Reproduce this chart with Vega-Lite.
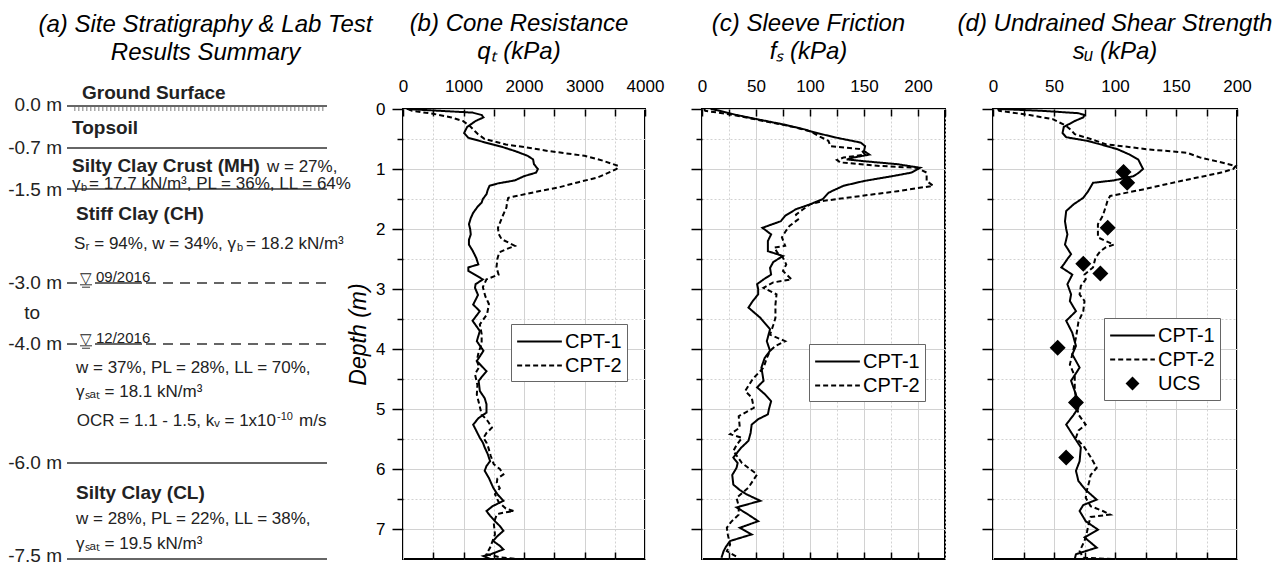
{
  "$schema": "https://vega.github.io/schema/vega-lite/v6.json",
  "background": "white",
  "padding": {"left": 0, "top": 11, "right": 0, "bottom": 0},
  "spacing": 0,
  "bounds": "flush",
  "config": {
    "font": "Liberation Sans",
    "view": {"stroke": "black", "strokeWidth": 2},
    "title": {"font": "Liberation Sans", "fontSize": 24, "fontStyle": "italic", "fontWeight": "normal", "lineHeight": 28, "offset": 13, "anchor": "middle", "color": "black"},
    "axis": {"labelFont": "Liberation Sans", "labelFontSize": 17, "labelColor": "black", "tickColor": "black", "tickWidth": 1.5, "gridColor": "#d2d2d2", "gridWidth": 1, "domain": false, "labelFlush": false, "labelOverlap": false, "titleFont": "Liberation Sans", "titleColor": "black"},
    "legend": {"labelFont": "Liberation Sans", "labelFontSize": 20, "labelColor": "black", "strokeColor": "#666", "fillColor": "white", "padding": 5, "symbolStrokeWidth": 2, "symbolStrokeColor": "black", "symbolFillColor": "black", "symbolSize": 500, "symbolOffset": 11, "labelOffset": 13, "rowPadding": 1, "cornerRadius": 0}
  },
  "resolve": {"scale": {"strokeDash": "independent", "shape": "independent"}},
  "datasets": {
    "strat": [
      {"kind": "line", "x": 6.7, "x2": 32.7, "y": -0.05},
      {"kind": "line", "x": 6.7, "x2": 32.7, "y": 0.65},
      {"kind": "line", "x": 6.7, "x2": 32.7, "y": 1.333},
      {"kind": "line", "x": 6.7, "x2": 32.7, "y": 5.9},
      {"kind": "line", "x": 6.7, "x2": 32.7, "y": 7.5},
      {"kind": "line", "x": 6.7, "x2": 7.7, "y": 2.9},
      {"kind": "line", "x": 6.7, "x2": 7.7, "y": 3.917},
      {"kind": "line", "x": 9.5, "x2": 14.2, "y": 2.9},
      {"kind": "line", "x": 9.5, "x2": 14.2, "y": 3.917},
      {"kind": "thin", "x": 8.0, "x2": 9.2, "y": 2.93},
      {"kind": "thin", "x": 8.2, "x2": 9.0, "y": 2.97},
      {"kind": "thin", "x": 8.0, "x2": 9.2, "y": 3.947},
      {"kind": "thin", "x": 8.2, "x2": 9.0, "y": 3.987},
      {"kind": "hatch", "x": 7.4, "x2": 32.4, "y": 0.0},
      {"kind": "dash", "x": 14.6, "x2": 32.7, "y": 2.9},
      {"kind": "dash", "x": 14.6, "x2": 32.7, "y": 3.917},
      {"kind": "label", "text": "0.0 m", "x": 6.2, "y": -0.067},
      {"kind": "label", "text": "-0.7 m", "x": 6.2, "y": 0.65},
      {"kind": "label", "text": "-1.5 m", "x": 6.2, "y": 1.35},
      {"kind": "label", "text": "-3.0 m", "x": 6.2, "y": 2.9},
      {"kind": "label", "text": "to", "x": 4.0, "y": 3.4},
      {"kind": "label", "text": "-4.0 m", "x": 6.2, "y": 3.917},
      {"kind": "label", "text": "-6.0 m", "x": 6.2, "y": 5.9},
      {"kind": "label", "text": "-7.5 m", "x": 6.2, "y": 7.45},
      {"kind": "head", "text": "Ground Surface", "x": 8.2, "y": -0.267},
      {"kind": "head", "text": "Topsoil", "x": 7.2, "y": 0.317},
      {"kind": "head", "text": "Silty Clay Crust (MH)", "x": 7.2, "y": 0.95},
      {"kind": "head", "text": "Stiff Clay (CH)", "x": 7.6, "y": 1.75},
      {"kind": "head", "text": "Silty Clay (CL)", "x": 7.6, "y": 6.4},
      {"kind": "body", "text": "w = 27%,", "x": 26.7, "y": 0.967},
      {"kind": "body", "text": "γ", "x": 7.2, "y": 1.25},
      {"kind": "body", "text": "= 17.7 kN/m³, PL = 36%, LL = 64%", "x": 8.9, "y": 1.25},
      {"kind": "bodyR", "text": "Sᵣ = 94%, w = 34%, γ", "x": 23.6, "y": 2.25},
      {"kind": "body", "text": "= 18.2 kN/m³", "x": 24.6, "y": 2.25},
      {"kind": "body", "text": "w = 37%, PL = 28%, LL = 70%,", "x": 7.6, "y": 4.317},
      {"kind": "body", "text": "γₛₐₜ = 18.1 kN/m³", "x": 7.6, "y": 4.717},
      {"kind": "bodyR", "text": "OCR = 1.1 - 1.5, kᵥ = 1x10", "x": 27.6, "y": 5.2},
      {"kind": "body", "text": "m/s", "x": 29.9, "y": 5.2},
      {"kind": "body", "text": "w = 28%, PL = 22%, LL = 38%,", "x": 7.6, "y": 6.833},
      {"kind": "body", "text": "γₛₐₜ = 19.5 kN/m³", "x": 7.6, "y": 7.25},
      {"kind": "sub", "text": "b", "x": 8.1, "y": 1.32},
      {"kind": "sub", "text": "b", "x": 23.7, "y": 2.32},
      {"kind": "sub", "text": "-10", "x": 27.7, "y": 5.13},
      {"kind": "wt", "text": "▽", "x": 8.6, "y": 2.9},
      {"kind": "wt", "text": "▽", "x": 8.6, "y": 3.917},
      {"kind": "date", "text": "09/2016", "x": 9.6, "y": 2.88},
      {"kind": "date", "text": "12/2016", "x": 9.6, "y": 3.897}
    ],
    "qt": [
      {"series": "CPT-1", "d": 0.0, "v": 60}, {"series": "CPT-1", "d": 0.03, "v": 600}, {"series": "CPT-1", "d": 0.06, "v": 1150}, {"series": "CPT-1", "d": 0.1, "v": 1300}, {"series": "CPT-1", "d": 0.14, "v": 1330}, {"series": "CPT-1", "d": 0.2, "v": 1200}, {"series": "CPT-1", "d": 0.3, "v": 1060}, {"series": "CPT-1", "d": 0.4, "v": 1010}, {"series": "CPT-1", "d": 0.48, "v": 1080}, {"series": "CPT-1", "d": 0.55, "v": 1330}, {"series": "CPT-1", "d": 0.62, "v": 1600}, {"series": "CPT-1", "d": 0.7, "v": 1850}, {"series": "CPT-1", "d": 0.78, "v": 2060}, {"series": "CPT-1", "d": 0.84, "v": 2150}, {"series": "CPT-1", "d": 0.92, "v": 2165}, {"series": "CPT-1", "d": 1.0, "v": 2230}, {"series": "CPT-1", "d": 1.06, "v": 2200}, {"series": "CPT-1", "d": 1.12, "v": 2000}, {"series": "CPT-1", "d": 1.19, "v": 1850}, {"series": "CPT-1", "d": 1.24, "v": 1570}, {"series": "CPT-1", "d": 1.28, "v": 1430}, {"series": "CPT-1", "d": 1.35, "v": 1400}, {"series": "CPT-1", "d": 1.42, "v": 1380}, {"series": "CPT-1", "d": 1.5, "v": 1320}, {"series": "CPT-1", "d": 1.56, "v": 1300}, {"series": "CPT-1", "d": 1.62, "v": 1240}, {"series": "CPT-1", "d": 1.73, "v": 1160}, {"series": "CPT-1", "d": 1.82, "v": 1120}, {"series": "CPT-1", "d": 1.92, "v": 1090}, {"series": "CPT-1", "d": 2.0, "v": 1110}, {"series": "CPT-1", "d": 2.09, "v": 1120}, {"series": "CPT-1", "d": 2.18, "v": 1090}, {"series": "CPT-1", "d": 2.26, "v": 1090}, {"series": "CPT-1", "d": 2.36, "v": 1150}, {"series": "CPT-1", "d": 2.48, "v": 1210}, {"series": "CPT-1", "d": 2.59, "v": 1245}, {"series": "CPT-1", "d": 2.64, "v": 1080}, {"series": "CPT-1", "d": 2.7, "v": 1080}, {"series": "CPT-1", "d": 2.84, "v": 1320}, {"series": "CPT-1", "d": 2.92, "v": 1200}, {"series": "CPT-1", "d": 2.98, "v": 1190}, {"series": "CPT-1", "d": 3.1, "v": 1240}, {"series": "CPT-1", "d": 3.26, "v": 1160}, {"series": "CPT-1", "d": 3.37, "v": 1270}, {"series": "CPT-1", "d": 3.53, "v": 1150}, {"series": "CPT-1", "d": 3.7, "v": 1270}, {"series": "CPT-1", "d": 3.87, "v": 1220}, {"series": "CPT-1", "d": 4.03, "v": 1330}, {"series": "CPT-1", "d": 4.2, "v": 1220}, {"series": "CPT-1", "d": 4.37, "v": 1380}, {"series": "CPT-1", "d": 4.53, "v": 1250}, {"series": "CPT-1", "d": 4.7, "v": 1270}, {"series": "CPT-1", "d": 4.82, "v": 1350}, {"series": "CPT-1", "d": 4.92, "v": 1380}, {"series": "CPT-1", "d": 5.06, "v": 1380}, {"series": "CPT-1", "d": 5.15, "v": 1250}, {"series": "CPT-1", "d": 5.26, "v": 1160}, {"series": "CPT-1", "d": 5.38, "v": 1220}, {"series": "CPT-1", "d": 5.48, "v": 1270}, {"series": "CPT-1", "d": 5.56, "v": 1320}, {"series": "CPT-1", "d": 5.64, "v": 1350}, {"series": "CPT-1", "d": 5.75, "v": 1400}, {"series": "CPT-1", "d": 5.87, "v": 1440}, {"series": "CPT-1", "d": 5.95, "v": 1380}, {"series": "CPT-1", "d": 6.03, "v": 1350}, {"series": "CPT-1", "d": 6.15, "v": 1420}, {"series": "CPT-1", "d": 6.31, "v": 1490}, {"series": "CPT-1", "d": 6.42, "v": 1560}, {"series": "CPT-1", "d": 6.53, "v": 1660}, {"series": "CPT-1", "d": 6.62, "v": 1480}, {"series": "CPT-1", "d": 6.7, "v": 1380}, {"series": "CPT-1", "d": 6.78, "v": 1440}, {"series": "CPT-1", "d": 6.87, "v": 1520}, {"series": "CPT-1", "d": 6.95, "v": 1600}, {"series": "CPT-1", "d": 7.03, "v": 1660}, {"series": "CPT-1", "d": 7.12, "v": 1560}, {"series": "CPT-1", "d": 7.2, "v": 1490}, {"series": "CPT-1", "d": 7.28, "v": 1600}, {"series": "CPT-1", "d": 7.34, "v": 1660}, {"series": "CPT-1", "d": 7.42, "v": 1450}, {"series": "CPT-1", "d": 7.45, "v": 1330}, {"series": "CPT-1", "d": 7.5, "v": 1440},
      {"series": "CPT-2", "d": 0.0, "v": 80}, {"series": "CPT-2", "d": 0.03, "v": 150}, {"series": "CPT-2", "d": 0.08, "v": 500}, {"series": "CPT-2", "d": 0.14, "v": 800}, {"series": "CPT-2", "d": 0.2, "v": 990}, {"series": "CPT-2", "d": 0.28, "v": 1100}, {"series": "CPT-2", "d": 0.37, "v": 1190}, {"series": "CPT-2", "d": 0.42, "v": 1240}, {"series": "CPT-2", "d": 0.5, "v": 1350}, {"series": "CPT-2", "d": 0.59, "v": 1700}, {"series": "CPT-2", "d": 0.65, "v": 2100}, {"series": "CPT-2", "d": 0.7, "v": 2400}, {"series": "CPT-2", "d": 0.78, "v": 3000}, {"series": "CPT-2", "d": 0.86, "v": 3300}, {"series": "CPT-2", "d": 0.95, "v": 3560}, {"series": "CPT-2", "d": 1.0, "v": 3530}, {"series": "CPT-2", "d": 1.07, "v": 3380}, {"series": "CPT-2", "d": 1.14, "v": 3220}, {"series": "CPT-2", "d": 1.22, "v": 2900}, {"series": "CPT-2", "d": 1.31, "v": 2560}, {"series": "CPT-2", "d": 1.38, "v": 2200}, {"series": "CPT-2", "d": 1.42, "v": 2010}, {"series": "CPT-2", "d": 1.48, "v": 1740}, {"series": "CPT-2", "d": 1.55, "v": 1720}, {"series": "CPT-2", "d": 1.64, "v": 1710}, {"series": "CPT-2", "d": 1.8, "v": 1640}, {"series": "CPT-2", "d": 1.98, "v": 1570}, {"series": "CPT-2", "d": 2.08, "v": 1580}, {"series": "CPT-2", "d": 2.17, "v": 1630}, {"series": "CPT-2", "d": 2.28, "v": 1850}, {"series": "CPT-2", "d": 2.34, "v": 1700}, {"series": "CPT-2", "d": 2.39, "v": 1590}, {"series": "CPT-2", "d": 2.5, "v": 1560}, {"series": "CPT-2", "d": 2.64, "v": 1545}, {"series": "CPT-2", "d": 2.76, "v": 1580}, {"series": "CPT-2", "d": 2.84, "v": 1380}, {"series": "CPT-2", "d": 2.97, "v": 1320}, {"series": "CPT-2", "d": 3.12, "v": 1360}, {"series": "CPT-2", "d": 3.25, "v": 1420}, {"series": "CPT-2", "d": 3.42, "v": 1390}, {"series": "CPT-2", "d": 3.59, "v": 1270}, {"series": "CPT-2", "d": 3.75, "v": 1300}, {"series": "CPT-2", "d": 3.92, "v": 1300}, {"series": "CPT-2", "d": 4.05, "v": 1250}, {"series": "CPT-2", "d": 4.2, "v": 1220}, {"series": "CPT-2", "d": 4.3, "v": 1260}, {"series": "CPT-2", "d": 4.42, "v": 1190}, {"series": "CPT-2", "d": 4.6, "v": 1230}, {"series": "CPT-2", "d": 4.76, "v": 1220}, {"series": "CPT-2", "d": 4.92, "v": 1260}, {"series": "CPT-2", "d": 5.09, "v": 1300}, {"series": "CPT-2", "d": 5.2, "v": 1400}, {"series": "CPT-2", "d": 5.31, "v": 1470}, {"series": "CPT-2", "d": 5.4, "v": 1380}, {"series": "CPT-2", "d": 5.48, "v": 1330}, {"series": "CPT-2", "d": 5.56, "v": 1380}, {"series": "CPT-2", "d": 5.64, "v": 1410}, {"series": "CPT-2", "d": 5.78, "v": 1450}, {"series": "CPT-2", "d": 5.92, "v": 1500}, {"series": "CPT-2", "d": 6.0, "v": 1600}, {"series": "CPT-2", "d": 6.09, "v": 1660}, {"series": "CPT-2", "d": 6.16, "v": 1560}, {"series": "CPT-2", "d": 6.23, "v": 1550}, {"series": "CPT-2", "d": 6.32, "v": 1600}, {"series": "CPT-2", "d": 6.42, "v": 1520}, {"series": "CPT-2", "d": 6.55, "v": 1580}, {"series": "CPT-2", "d": 6.66, "v": 1700}, {"series": "CPT-2", "d": 6.7, "v": 1830}, {"series": "CPT-2", "d": 6.74, "v": 1600}, {"series": "CPT-2", "d": 6.76, "v": 1550}, {"series": "CPT-2", "d": 6.9, "v": 1500}, {"series": "CPT-2", "d": 7.09, "v": 1520}, {"series": "CPT-2", "d": 7.2, "v": 1480}, {"series": "CPT-2", "d": 7.31, "v": 1440}, {"series": "CPT-2", "d": 7.42, "v": 1380}, {"series": "CPT-2", "d": 7.47, "v": 1600}, {"series": "CPT-2", "d": 7.5, "v": 1880}
    ],
    "fs": [
      {"series": "CPT-1", "d": 0.0, "v": 8}, {"series": "CPT-1", "d": 0.02, "v": 14}, {"series": "CPT-1", "d": 0.1, "v": 32}, {"series": "CPT-1", "d": 0.17, "v": 51}, {"series": "CPT-1", "d": 0.26, "v": 76}, {"series": "CPT-1", "d": 0.34, "v": 95}, {"series": "CPT-1", "d": 0.37, "v": 100}, {"series": "CPT-1", "d": 0.42, "v": 111}, {"series": "CPT-1", "d": 0.48, "v": 125}, {"series": "CPT-1", "d": 0.56, "v": 147}, {"series": "CPT-1", "d": 0.62, "v": 151}, {"series": "CPT-1", "d": 0.7, "v": 150}, {"series": "CPT-1", "d": 0.76, "v": 155}, {"series": "CPT-1", "d": 0.81, "v": 140}, {"series": "CPT-1", "d": 0.84, "v": 134}, {"series": "CPT-1", "d": 0.87, "v": 150}, {"series": "CPT-1", "d": 0.92, "v": 181}, {"series": "CPT-1", "d": 0.98, "v": 202}, {"series": "CPT-1", "d": 1.06, "v": 194}, {"series": "CPT-1", "d": 1.12, "v": 176}, {"series": "CPT-1", "d": 1.2, "v": 150}, {"series": "CPT-1", "d": 1.28, "v": 131}, {"series": "CPT-1", "d": 1.33, "v": 125}, {"series": "CPT-1", "d": 1.37, "v": 120}, {"series": "CPT-1", "d": 1.4, "v": 117}, {"series": "CPT-1", "d": 1.5, "v": 112}, {"series": "CPT-1", "d": 1.59, "v": 100}, {"series": "CPT-1", "d": 1.67, "v": 87}, {"series": "CPT-1", "d": 1.78, "v": 77}, {"series": "CPT-1", "d": 1.87, "v": 73}, {"series": "CPT-1", "d": 1.98, "v": 56}, {"series": "CPT-1", "d": 2.09, "v": 64}, {"series": "CPT-1", "d": 2.2, "v": 61}, {"series": "CPT-1", "d": 2.37, "v": 61}, {"series": "CPT-1", "d": 2.45, "v": 75}, {"series": "CPT-1", "d": 2.55, "v": 66}, {"series": "CPT-1", "d": 2.65, "v": 63}, {"series": "CPT-1", "d": 2.76, "v": 64}, {"series": "CPT-1", "d": 2.84, "v": 57}, {"series": "CPT-1", "d": 2.92, "v": 51}, {"series": "CPT-1", "d": 3.0, "v": 52}, {"series": "CPT-1", "d": 3.09, "v": 52}, {"series": "CPT-1", "d": 3.2, "v": 47}, {"series": "CPT-1", "d": 3.31, "v": 43}, {"series": "CPT-1", "d": 3.48, "v": 54}, {"series": "CPT-1", "d": 3.67, "v": 63}, {"series": "CPT-1", "d": 3.87, "v": 60}, {"series": "CPT-1", "d": 4.03, "v": 63}, {"series": "CPT-1", "d": 4.15, "v": 58}, {"series": "CPT-1", "d": 4.31, "v": 55}, {"series": "CPT-1", "d": 4.53, "v": 57}, {"series": "CPT-1", "d": 4.64, "v": 51}, {"series": "CPT-1", "d": 4.75, "v": 58}, {"series": "CPT-1", "d": 4.87, "v": 64}, {"series": "CPT-1", "d": 5.0, "v": 62}, {"series": "CPT-1", "d": 5.09, "v": 61}, {"series": "CPT-1", "d": 5.17, "v": 52}, {"series": "CPT-1", "d": 5.26, "v": 46}, {"series": "CPT-1", "d": 5.4, "v": 45}, {"series": "CPT-1", "d": 5.53, "v": 43}, {"series": "CPT-1", "d": 5.65, "v": 36}, {"series": "CPT-1", "d": 5.81, "v": 29}, {"series": "CPT-1", "d": 5.9, "v": 33}, {"series": "CPT-1", "d": 5.98, "v": 32}, {"series": "CPT-1", "d": 6.1, "v": 28}, {"series": "CPT-1", "d": 6.26, "v": 29}, {"series": "CPT-1", "d": 6.35, "v": 35}, {"series": "CPT-1", "d": 6.42, "v": 41}, {"series": "CPT-1", "d": 6.53, "v": 54}, {"series": "CPT-1", "d": 6.64, "v": 32}, {"series": "CPT-1", "d": 6.75, "v": 42}, {"series": "CPT-1", "d": 6.87, "v": 52}, {"series": "CPT-1", "d": 6.98, "v": 35}, {"series": "CPT-1", "d": 7.09, "v": 46}, {"series": "CPT-1", "d": 7.2, "v": 26}, {"series": "CPT-1", "d": 7.3, "v": 22}, {"series": "CPT-1", "d": 7.37, "v": 20}, {"series": "CPT-1", "d": 7.48, "v": 18},
      {"series": "CPT-2", "d": 0.0, "v": 2}, {"series": "CPT-2", "d": 0.03, "v": 3}, {"series": "CPT-2", "d": 0.09, "v": 26}, {"series": "CPT-2", "d": 0.2, "v": 57}, {"series": "CPT-2", "d": 0.3, "v": 85}, {"series": "CPT-2", "d": 0.37, "v": 100}, {"series": "CPT-2", "d": 0.45, "v": 108}, {"series": "CPT-2", "d": 0.53, "v": 117}, {"series": "CPT-2", "d": 0.62, "v": 119}, {"series": "CPT-2", "d": 0.67, "v": 147}, {"series": "CPT-2", "d": 0.76, "v": 151}, {"series": "CPT-2", "d": 0.81, "v": 131}, {"series": "CPT-2", "d": 0.85, "v": 125}, {"series": "CPT-2", "d": 0.89, "v": 128}, {"series": "CPT-2", "d": 0.95, "v": 165}, {"series": "CPT-2", "d": 0.98, "v": 199}, {"series": "CPT-2", "d": 1.06, "v": 208}, {"series": "CPT-2", "d": 1.2, "v": 208}, {"series": "CPT-2", "d": 1.28, "v": 214}, {"series": "CPT-2", "d": 1.37, "v": 181}, {"series": "CPT-2", "d": 1.48, "v": 134}, {"series": "CPT-2", "d": 1.53, "v": 113}, {"series": "CPT-2", "d": 1.59, "v": 100}, {"series": "CPT-2", "d": 1.68, "v": 93}, {"series": "CPT-2", "d": 1.76, "v": 87}, {"series": "CPT-2", "d": 1.84, "v": 89}, {"series": "CPT-2", "d": 1.95, "v": 81}, {"series": "CPT-2", "d": 2.05, "v": 77}, {"series": "CPT-2", "d": 2.14, "v": 74}, {"series": "CPT-2", "d": 2.28, "v": 77}, {"series": "CPT-2", "d": 2.31, "v": 67}, {"series": "CPT-2", "d": 2.4, "v": 70}, {"series": "CPT-2", "d": 2.48, "v": 75}, {"series": "CPT-2", "d": 2.59, "v": 78}, {"series": "CPT-2", "d": 2.7, "v": 75}, {"series": "CPT-2", "d": 2.84, "v": 83}, {"series": "CPT-2", "d": 2.89, "v": 66}, {"series": "CPT-2", "d": 2.98, "v": 57}, {"series": "CPT-2", "d": 3.09, "v": 69}, {"series": "CPT-2", "d": 3.26, "v": 68}, {"series": "CPT-2", "d": 3.48, "v": 68}, {"series": "CPT-2", "d": 3.6, "v": 66}, {"series": "CPT-2", "d": 3.76, "v": 63}, {"series": "CPT-2", "d": 3.87, "v": 77}, {"series": "CPT-2", "d": 3.95, "v": 68}, {"series": "CPT-2", "d": 4.03, "v": 63}, {"series": "CPT-2", "d": 4.15, "v": 60}, {"series": "CPT-2", "d": 4.31, "v": 57}, {"series": "CPT-2", "d": 4.5, "v": 47}, {"series": "CPT-2", "d": 4.7, "v": 40}, {"series": "CPT-2", "d": 4.81, "v": 46}, {"series": "CPT-2", "d": 4.98, "v": 48}, {"series": "CPT-2", "d": 5.12, "v": 34}, {"series": "CPT-2", "d": 5.31, "v": 35}, {"series": "CPT-2", "d": 5.42, "v": 26}, {"series": "CPT-2", "d": 5.48, "v": 37}, {"series": "CPT-2", "d": 5.6, "v": 32}, {"series": "CPT-2", "d": 5.7, "v": 29}, {"series": "CPT-2", "d": 5.9, "v": 37}, {"series": "CPT-2", "d": 6.09, "v": 51}, {"series": "CPT-2", "d": 6.2, "v": 47}, {"series": "CPT-2", "d": 6.31, "v": 43}, {"series": "CPT-2", "d": 6.48, "v": 32}, {"series": "CPT-2", "d": 6.62, "v": 34}, {"series": "CPT-2", "d": 6.76, "v": 34}, {"series": "CPT-2", "d": 6.88, "v": 27}, {"series": "CPT-2", "d": 6.98, "v": 23}, {"series": "CPT-2", "d": 7.1, "v": 24}, {"series": "CPT-2", "d": 7.26, "v": 26}, {"series": "CPT-2", "d": 7.37, "v": 23}, {"series": "CPT-2", "d": 7.48, "v": 34}
    ],
    "su": [
      {"series": "CPT-1", "d": 0.0, "v": 5}, {"series": "CPT-1", "d": 0.03, "v": 40}, {"series": "CPT-1", "d": 0.07, "v": 70}, {"series": "CPT-1", "d": 0.1, "v": 75}, {"series": "CPT-1", "d": 0.14, "v": 74}, {"series": "CPT-1", "d": 0.2, "v": 67}, {"series": "CPT-1", "d": 0.3, "v": 58}, {"series": "CPT-1", "d": 0.4, "v": 57}, {"series": "CPT-1", "d": 0.47, "v": 60}, {"series": "CPT-1", "d": 0.53, "v": 77}, {"series": "CPT-1", "d": 0.6, "v": 90}, {"series": "CPT-1", "d": 0.67, "v": 102}, {"series": "CPT-1", "d": 0.76, "v": 112}, {"series": "CPT-1", "d": 0.84, "v": 119}, {"series": "CPT-1", "d": 0.92, "v": 121}, {"series": "CPT-1", "d": 1.0, "v": 123}, {"series": "CPT-1", "d": 1.07, "v": 119}, {"series": "CPT-1", "d": 1.12, "v": 115}, {"series": "CPT-1", "d": 1.19, "v": 99}, {"series": "CPT-1", "d": 1.23, "v": 82}, {"series": "CPT-1", "d": 1.3, "v": 80}, {"series": "CPT-1", "d": 1.37, "v": 78}, {"series": "CPT-1", "d": 1.48, "v": 74}, {"series": "CPT-1", "d": 1.59, "v": 66}, {"series": "CPT-1", "d": 1.7, "v": 60}, {"series": "CPT-1", "d": 1.87, "v": 59}, {"series": "CPT-1", "d": 2.0, "v": 60}, {"series": "CPT-1", "d": 2.09, "v": 61}, {"series": "CPT-1", "d": 2.26, "v": 59}, {"series": "CPT-1", "d": 2.42, "v": 64}, {"series": "CPT-1", "d": 2.5, "v": 61}, {"series": "CPT-1", "d": 2.59, "v": 58}, {"series": "CPT-1", "d": 2.64, "v": 56}, {"series": "CPT-1", "d": 2.76, "v": 65}, {"series": "CPT-1", "d": 2.92, "v": 61}, {"series": "CPT-1", "d": 3.09, "v": 64}, {"series": "CPT-1", "d": 3.2, "v": 63}, {"series": "CPT-1", "d": 3.37, "v": 68}, {"series": "CPT-1", "d": 3.53, "v": 60}, {"series": "CPT-1", "d": 3.73, "v": 65}, {"series": "CPT-1", "d": 3.95, "v": 68}, {"series": "CPT-1", "d": 4.09, "v": 65}, {"series": "CPT-1", "d": 4.31, "v": 71}, {"series": "CPT-1", "d": 4.53, "v": 64}, {"series": "CPT-1", "d": 4.76, "v": 68}, {"series": "CPT-1", "d": 4.98, "v": 70}, {"series": "CPT-1", "d": 5.1, "v": 66}, {"series": "CPT-1", "d": 5.26, "v": 60}, {"series": "CPT-1", "d": 5.42, "v": 65}, {"series": "CPT-1", "d": 5.64, "v": 72}, {"series": "CPT-1", "d": 5.87, "v": 71}, {"series": "CPT-1", "d": 6.03, "v": 68}, {"series": "CPT-1", "d": 6.2, "v": 70}, {"series": "CPT-1", "d": 6.35, "v": 76}, {"series": "CPT-1", "d": 6.51, "v": 85}, {"series": "CPT-1", "d": 6.6, "v": 74}, {"series": "CPT-1", "d": 6.7, "v": 71}, {"series": "CPT-1", "d": 6.87, "v": 76}, {"series": "CPT-1", "d": 7.01, "v": 86}, {"series": "CPT-1", "d": 7.14, "v": 75}, {"series": "CPT-1", "d": 7.31, "v": 85}, {"series": "CPT-1", "d": 7.42, "v": 68}, {"series": "CPT-1", "d": 7.5, "v": 67},
      {"series": "CPT-2", "d": 0.0, "v": 4}, {"series": "CPT-2", "d": 0.03, "v": 5}, {"series": "CPT-2", "d": 0.1, "v": 30}, {"series": "CPT-2", "d": 0.17, "v": 49}, {"series": "CPT-2", "d": 0.28, "v": 60}, {"series": "CPT-2", "d": 0.35, "v": 64}, {"series": "CPT-2", "d": 0.42, "v": 67}, {"series": "CPT-2", "d": 0.5, "v": 80}, {"series": "CPT-2", "d": 0.59, "v": 93}, {"series": "CPT-2", "d": 0.63, "v": 110}, {"series": "CPT-2", "d": 0.67, "v": 126}, {"series": "CPT-2", "d": 0.73, "v": 159}, {"series": "CPT-2", "d": 0.81, "v": 170}, {"series": "CPT-2", "d": 0.88, "v": 185}, {"series": "CPT-2", "d": 0.95, "v": 199}, {"series": "CPT-2", "d": 1.0, "v": 197}, {"series": "CPT-2", "d": 1.06, "v": 187}, {"series": "CPT-2", "d": 1.2, "v": 154}, {"series": "CPT-2", "d": 1.34, "v": 123}, {"series": "CPT-2", "d": 1.45, "v": 96}, {"series": "CPT-2", "d": 1.52, "v": 94}, {"series": "CPT-2", "d": 1.59, "v": 93}, {"series": "CPT-2", "d": 1.78, "v": 90}, {"series": "CPT-2", "d": 1.92, "v": 86}, {"series": "CPT-2", "d": 2.14, "v": 86}, {"series": "CPT-2", "d": 2.26, "v": 99}, {"series": "CPT-2", "d": 2.31, "v": 92}, {"series": "CPT-2", "d": 2.37, "v": 88}, {"series": "CPT-2", "d": 2.48, "v": 84}, {"series": "CPT-2", "d": 2.64, "v": 82}, {"series": "CPT-2", "d": 2.76, "v": 75}, {"series": "CPT-2", "d": 2.84, "v": 76}, {"series": "CPT-2", "d": 2.95, "v": 72}, {"series": "CPT-2", "d": 3.09, "v": 71}, {"series": "CPT-2", "d": 3.2, "v": 75}, {"series": "CPT-2", "d": 3.37, "v": 74}, {"series": "CPT-2", "d": 3.55, "v": 70}, {"series": "CPT-2", "d": 3.81, "v": 68}, {"series": "CPT-2", "d": 4.0, "v": 66}, {"series": "CPT-2", "d": 4.26, "v": 63}, {"series": "CPT-2", "d": 4.45, "v": 67}, {"series": "CPT-2", "d": 4.64, "v": 67}, {"series": "CPT-2", "d": 4.85, "v": 68}, {"series": "CPT-2", "d": 5.09, "v": 70}, {"series": "CPT-2", "d": 5.26, "v": 76}, {"series": "CPT-2", "d": 5.36, "v": 70}, {"series": "CPT-2", "d": 5.48, "v": 68}, {"series": "CPT-2", "d": 5.64, "v": 75}, {"series": "CPT-2", "d": 5.8, "v": 80}, {"series": "CPT-2", "d": 5.98, "v": 85}, {"series": "CPT-2", "d": 6.1, "v": 80}, {"series": "CPT-2", "d": 6.2, "v": 79}, {"series": "CPT-2", "d": 6.35, "v": 77}, {"series": "CPT-2", "d": 6.48, "v": 76}, {"series": "CPT-2", "d": 6.62, "v": 80}, {"series": "CPT-2", "d": 6.7, "v": 90}, {"series": "CPT-2", "d": 6.76, "v": 96}, {"series": "CPT-2", "d": 6.8, "v": 80}, {"series": "CPT-2", "d": 6.87, "v": 79}, {"series": "CPT-2", "d": 7.05, "v": 77}, {"series": "CPT-2", "d": 7.2, "v": 75}, {"series": "CPT-2", "d": 7.37, "v": 71}, {"series": "CPT-2", "d": 7.48, "v": 74}, {"series": "CPT-2", "d": 7.5, "v": 98}
    ],
    "ucs": [
      {"series": "UCS", "d": 1.05, "v": 107}, {"series": "UCS", "d": 1.23, "v": 110}, {"series": "UCS", "d": 1.98, "v": 94}, {"series": "UCS", "d": 2.58, "v": 74}, {"series": "UCS", "d": 2.74, "v": 88}, {"series": "UCS", "d": 3.98, "v": 53}, {"series": "UCS", "d": 4.89, "v": 68}, {"series": "UCS", "d": 5.81, "v": 60}
    ]
  },
  "hconcat": [
    {
      "width": 403, "height": 450,
      "view": {"stroke": null},
      "title": {"text": ["(a) Site Stratigraphy & Lab Test", "Results Summary"], "offset": 19, "dx": 4},
      "data": {"name": "strat"},
      "encoding": {
        "x": {"field": "x", "type": "quantitative", "scale": {"domain": [0, 40.3], "nice": false, "zero": false}, "axis": null},
        "y": {"field": "y", "type": "quantitative", "scale": {"domain": [0, 7.5], "reverse": true, "nice": false, "zero": false}, "axis": null}
      },
      "layer": [
        {"transform": [{"filter": "datum.kind === 'hatch'"}], "mark": {"type": "rule", "color": "#a8a8a8", "strokeWidth": 4, "strokeDash": [1.5, 2.5]}, "encoding": {"x2": {"field": "x2"}}},
        {"transform": [{"filter": "datum.kind === 'line'"}], "mark": {"type": "rule", "color": "#333", "strokeWidth": 1.5}, "encoding": {"x2": {"field": "x2"}}},
        {"transform": [{"filter": "datum.kind === 'thin'"}], "mark": {"type": "rule", "color": "#333", "strokeWidth": 1}, "encoding": {"x2": {"field": "x2"}}},
        {"transform": [{"filter": "datum.kind === 'dash'"}], "mark": {"type": "rule", "color": "#333", "strokeWidth": 1.5, "strokeDash": [10, 7]}, "encoding": {"x2": {"field": "x2"}}},
        {"transform": [{"filter": "datum.kind === 'label'"}], "mark": {"type": "text", "align": "right", "baseline": "middle", "fontSize": 19, "color": "#222"}, "encoding": {"text": {"field": "text"}}},
        {"transform": [{"filter": "datum.kind === 'head'"}], "mark": {"type": "text", "align": "left", "baseline": "middle", "fontSize": 19, "fontWeight": "bold", "color": "#222"}, "encoding": {"text": {"field": "text"}}},
        {"transform": [{"filter": "datum.kind === 'body'"}], "mark": {"type": "text", "align": "left", "baseline": "middle", "fontSize": 17, "color": "#222"}, "encoding": {"text": {"field": "text"}}},
        {"transform": [{"filter": "datum.kind === 'bodyR'"}], "mark": {"type": "text", "align": "right", "baseline": "middle", "fontSize": 17, "color": "#222"}, "encoding": {"text": {"field": "text"}}},
        {"transform": [{"filter": "datum.kind === 'sub'"}], "mark": {"type": "text", "align": "left", "baseline": "middle", "fontSize": 11, "color": "#222"}, "encoding": {"text": {"field": "text"}}},
        {"transform": [{"filter": "datum.kind === 'wt'"}], "mark": {"type": "text", "align": "center", "baseline": "alphabetic", "fontSize": 15, "color": "#222"}, "encoding": {"text": {"field": "text"}}},
        {"transform": [{"filter": "datum.kind === 'date'"}], "mark": {"type": "text", "align": "left", "baseline": "alphabetic", "fontSize": 15, "color": "#222"}, "encoding": {"text": {"field": "text"}}}
      ]
    },
    {
      "width": 242, "height": 450,
      "title": {"text": ["(b) Cone Resistance", "qₜ (kPa)"], "dx": -5},
      "data": {"name": "qt"},
      "resolve": {"axis": {"x": "independent", "y": "independent"}},
      "layer": [
        {
          "mark": {"type": "line", "color": "black", "strokeWidth": 2},
          "encoding": {
            "x": {"field": "v", "type": "quantitative", "scale": {"domain": [0, 4000], "nice": false, "zero": false},
              "axis": {"orient": "top", "title": null, "values": [0, 500, 1000, 1500, 2000, 2500, 3000, 3500, 4000], "labelExpr": "datum.value % 1000 === 0 ? datum.value : ''", "grid": true, "gridDash": {"condition": {"test": "datum.value % 1000 !== 0", "value": [2, 2]}, "value": []}, "tickSize": -7, "labelPadding": 21}},
            "y": {"field": "d", "type": "quantitative", "scale": {"domain": [0, 7.5], "reverse": true, "nice": false, "zero": false},
              "axis": {"orient": "left", "title": "Depth (m)", "titleFontSize": 23, "titleFontStyle": "italic", "titleFontWeight": "normal", "titlePadding": 5, "values": [0, 1, 2, 3, 4, 5, 6, 7], "format": "d", "grid": true, "tickSize": 11, "labelPadding": 7}},
            "order": {"field": "d", "type": "quantitative"},
            "strokeDash": {"field": "series", "type": "nominal", "scale": {"domain": ["CPT-1", "CPT-2"], "range": [[1, 0], [5, 3]]},
              "legend": {"orient": "none", "legendX": 108, "legendY": 215, "title": null, "symbolType": "M-2,0H2"}}
          }
        },
        {
          "mark": {"type": "point", "opacity": 0},
          "encoding": {
            "x": {"field": "v", "type": "quantitative", "axis": {"orient": "bottom", "title": null, "values": [500, 1000, 1500, 2000, 2500, 3000, 3500], "labels": false, "grid": false, "tickSize": -7}},
            "y": {"field": "d", "type": "quantitative", "axis": {"orient": "left", "title": null, "values": [0.5, 1.5, 2.5, 3.5, 4.5, 5.5, 6.5], "labels": false, "grid": true, "gridDash": [2, 2], "tickSize": 6}}
          }
        }
      ]
    },
    {"width": 57, "height": 450, "view": {"stroke": null}, "data": {"values": [{"s": 0}]}, "mark": {"type": "text", "text": ""}},
    {
      "width": 243, "height": 450,
      "title": {"text": ["(c) Sleeve Friction", "fₛ (kPa)"], "dx": -15},
      "data": {"name": "fs"},
      "resolve": {"axis": {"x": "independent", "y": "independent"}},
      "layer": [
        {
          "mark": {"type": "line", "color": "black", "strokeWidth": 2},
          "encoding": {
            "x": {"field": "v", "type": "quantitative", "scale": {"domain": [0, 225], "nice": false, "zero": false},
              "axis": {"orient": "top", "title": null, "values": [0, 25, 50, 75, 100, 125, 150, 175, 200, 225], "labelExpr": "datum.value % 50 === 0 ? datum.value : ''", "grid": true, "gridDash": {"condition": {"test": "datum.value % 50 !== 0", "value": [2, 2]}, "value": []}, "tickSize": -7, "labelPadding": 21}},
            "y": {"field": "d", "type": "quantitative", "scale": {"domain": [0, 7.5], "reverse": true, "nice": false, "zero": false},
              "axis": {"orient": "left", "title": null, "values": [0, 1, 2, 3, 4, 5, 6, 7], "labels": false, "grid": true, "tickSize": 11}},
            "order": {"field": "d", "type": "quantitative"},
            "strokeDash": {"field": "series", "type": "nominal", "scale": {"domain": ["CPT-1", "CPT-2"], "range": [[1, 0], [5, 3]]},
              "legend": {"orient": "none", "legendX": 107, "legendY": 235, "title": null, "symbolType": "M-2,0H2"}}
          }
        },
        {
          "mark": {"type": "point", "opacity": 0},
          "encoding": {
            "x": {"field": "v", "type": "quantitative", "axis": {"orient": "bottom", "title": null, "values": [25, 50, 75, 100, 125, 150, 175, 200], "labels": false, "grid": false, "tickSize": -7}},
            "y": {"field": "d", "type": "quantitative", "axis": {"orient": "left", "title": null, "values": [0.5, 1.5, 2.5, 3.5, 4.5, 5.5, 6.5], "labels": false, "grid": true, "gridDash": [2, 2], "tickSize": 6}}
          }
        }
      ]
    },
    {"width": 48, "height": 450, "view": {"stroke": null}, "data": {"values": [{"s": 0}]}, "mark": {"type": "text", "text": ""}},
    {
      "width": 244, "height": 450,
      "title": {"text": ["(d) Undrained Shear Strength", "sᵤ (kPa)"]},
      "resolve": {"axis": {"x": "independent", "y": "independent"}, "scale": {"strokeDash": "independent"}},
      "layer": [
        {
          "data": {"name": "su"},
          "mark": {"type": "line", "color": "black", "strokeWidth": 2},
          "encoding": {
            "x": {"field": "v", "type": "quantitative", "scale": {"domain": [0, 200], "nice": false, "zero": false},
              "axis": {"orient": "top", "title": null, "values": [0, 25, 50, 75, 100, 125, 150, 175, 200], "labelExpr": "datum.value % 50 === 0 ? datum.value : ''", "grid": true, "gridDash": {"condition": {"test": "datum.value % 50 !== 0", "value": [2, 2]}, "value": []}, "tickSize": -7, "labelPadding": 21}},
            "y": {"field": "d", "type": "quantitative", "scale": {"domain": [0, 7.5], "reverse": true, "nice": false, "zero": false},
              "axis": {"orient": "left", "title": null, "values": [0, 1, 2, 3, 4, 5, 6, 7], "labels": false, "grid": true, "tickSize": 11}},
            "order": {"field": "d", "type": "quantitative"},
            "strokeDash": {"field": "series", "type": "nominal", "scale": {"domain": ["CPT-1", "CPT-2"], "range": [[1, 0], [5, 3]]}, "legend": null}
          }
        },
        {
          "data": {"name": "ucs"},
          "mark": {"type": "point", "filled": false, "fill": "black", "stroke": "black", "strokeWidth": 1.5, "opacity": 1, "size": 500},
          "encoding": {
            "x": {"field": "v", "type": "quantitative", "axis": {"orient": "bottom", "title": null, "values": [25, 50, 75, 100, 125, 150, 175], "labels": false, "grid": false, "tickSize": -7}},
            "y": {"field": "d", "type": "quantitative", "axis": {"orient": "left", "title": null, "values": [0.5, 1.5, 2.5, 3.5, 4.5, 5.5, 6.5], "labels": false, "grid": true, "gridDash": [2, 2], "tickSize": 6}},
            "shape": {"field": "series", "type": "nominal", "scale": {"domain": ["CPT-1", "CPT-2", "UCS"], "range": ["M-2,-0.09H2V0.09H-2Z", "M-2,-0.09H-1.55V0.09H-2ZM-1.28,-0.09H-0.83V0.09H-1.28ZM-0.56,-0.09H-0.11V0.09H-0.56ZM0.16,-0.09H0.61V0.09H0.16ZM0.88,-0.09H1.33V0.09H0.88ZM1.6,-0.09H2V0.09H1.6Z", "M0,-0.62L0.62,0L0,0.62L-0.62,0Z"]},
              "legend": {"orient": "none", "legendX": 111, "legendY": 209, "title": null, "symbolStrokeColor": "black", "symbolFillColor": "black", "symbolStrokeWidth": 2, "symbolOpacity": 1}}
          }
        }
      ]
    }
  ]
}
